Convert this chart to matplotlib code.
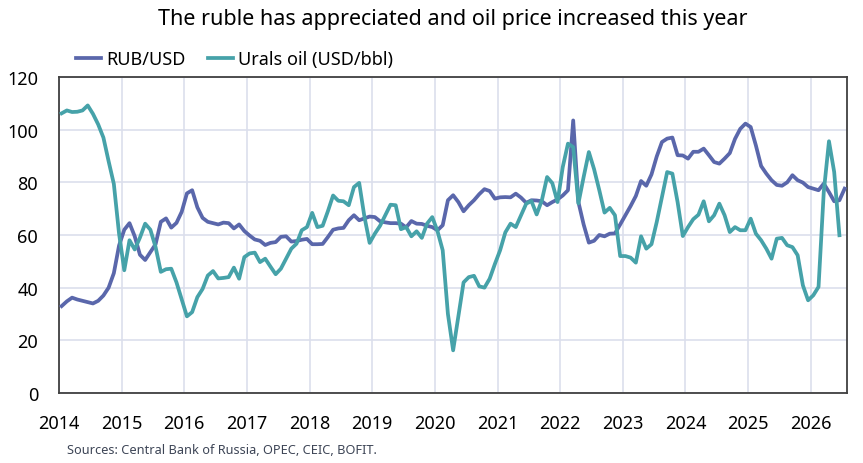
import matplotlib
matplotlib.use("Agg")
import matplotlib.pyplot as plt

# monthly data, Jan 2014 onwards
rub_usd = [
    33.0, 34.8, 36.2, 35.5, 35.0, 34.5, 34.0, 35.0, 37.0, 40.0, 45.5, 56.0,
    62.0, 64.5, 59.5, 52.5, 50.5, 53.5, 56.5, 65.0, 66.3, 62.8, 64.6, 68.8,
    75.8, 77.0, 70.5, 66.5, 65.0, 64.5, 64.0, 64.7, 64.5, 62.5, 64.0, 61.5,
    59.8, 58.3, 57.8, 56.2, 57.0, 57.3, 59.3, 59.5, 57.5, 57.7, 58.2, 58.5,
    56.5, 56.5, 56.6, 59.2, 62.0, 62.5, 62.7, 65.6, 67.5, 65.6, 66.3, 67.0,
    66.8, 65.2, 64.8, 64.5, 64.5, 64.3, 62.9, 65.3, 64.3, 64.2, 63.5, 63.0,
    61.8, 63.7, 73.2, 75.1, 72.5, 69.0, 71.3, 73.2, 75.5, 77.4, 76.7, 73.8,
    74.3, 74.4, 74.3, 75.7, 74.2, 72.2, 73.2, 73.1, 72.8, 71.3, 72.5, 73.5,
    75.0, 77.0, 103.5, 72.5, 64.0, 57.1, 57.8, 60.0, 59.5, 60.5, 60.6, 64.0,
    67.5, 71.0, 74.8, 80.5, 78.7, 83.0, 89.8, 95.3, 96.6, 97.0, 90.3, 90.2,
    89.0, 91.6, 91.6, 92.8, 90.3, 87.7, 87.1, 89.0, 91.1, 96.5, 100.3, 102.3,
    101.0, 94.0, 86.2, 83.3, 80.8, 79.0, 78.7, 80.0, 82.7, 80.8, 79.9, 78.2,
    77.6, 77.0, 79.5, 76.3, 72.8, 73.2, 77.6,
]

urals_oil = [
    106.2, 107.3, 106.7, 106.8, 107.3, 109.2, 106.0, 102.0, 97.0, 88.0, 79.4, 60.5,
    46.6, 58.0, 54.5, 59.0, 64.3, 62.0, 55.4, 46.0, 47.0, 47.2, 42.0, 35.5,
    29.1, 30.7, 36.4, 39.5, 44.6, 46.3, 43.5, 43.7, 44.0, 47.6, 43.4, 51.6,
    53.0, 53.3, 49.7, 51.0, 48.0, 45.1, 47.2, 51.0, 54.8, 56.7, 61.8, 63.0,
    68.4, 63.0, 63.5, 69.0, 75.0, 73.0, 72.8, 71.3, 78.2, 79.8, 67.0, 57.0,
    60.5, 63.5, 67.5, 71.5, 71.3, 62.2, 63.0, 59.5, 61.4, 58.9, 64.3, 66.8,
    61.5, 54.2, 30.0, 16.2, 29.0, 42.0, 44.0, 44.5, 40.5, 40.0, 43.4, 49.0,
    54.2, 61.0, 64.3, 63.0, 67.5, 71.9, 72.9, 67.8, 73.2, 82.0, 79.7, 72.5,
    85.8, 94.7, 93.4, 72.0, 82.0, 91.5, 85.0, 77.0, 68.5, 70.3, 67.5, 52.0,
    52.0, 51.4, 49.5, 59.5, 54.8, 56.5, 64.9, 74.4, 83.9, 83.3, 72.5, 59.6,
    63.0, 66.0, 67.7, 72.8, 65.2, 67.5, 71.9, 67.5, 61.1, 63.0, 61.8, 61.8,
    66.2, 60.5, 58.0, 54.8, 51.0, 58.6, 58.9, 56.1, 55.4, 52.3, 40.9, 35.2,
    37.1, 40.3, 76.3, 95.6, 83.9, 59.9,
]

years = list(range(2014, 2027))
y_ticks = [0, 20, 40, 60, 80, 100, 120]

# mid-month positions
x_rub = [2014 + (i + 0.5) / 12 for i in range(len(rub_usd))]
x_oil = [2014 + (i + 0.5) / 12 for i in range(len(urals_oil))]

plt.rcParams['font.family'] = ['Noto Sans', 'DejaVu Sans']

fig = plt.figure(figsize=(8.63, 4.64), dpi=100)
ax = fig.add_axes([0.0684, 0.1509, 0.9131, 0.681])

ax.plot(x_rub, rub_usd, color='#5a67ab', lw=2.7, label='RUB/USD', zorder=3)
ax.plot(x_oil, urals_oil, color='#46a2a9', lw=2.7, label='Urals oil (USD/bbl)', zorder=3)

ax.set_xlim(2014, 2026.58)
ax.set_ylim(0, 120)
ax.set_xticks(years)
ax.set_xticklabels([str(y) for y in years])
ax.set_yticks(y_ticks)
ax.grid(True, color='#dcdfec', lw=1.2)
ax.set_axisbelow(True)
ax.tick_params(length=0, labelsize=13)
ax.tick_params(axis='x', pad=15)
ax.tick_params(axis='y', pad=15)
for s in ax.spines.values():
    s.set_color('#404040')
    s.set_linewidth(1.3)

ax.set_title('The ruble has appreciated and oil price increased this year',
             fontsize=15.5, pad=38)
ax.legend(loc='lower left', bbox_to_anchor=(0.01, 1.0), ncol=2, frameon=False,
          fontsize=13, handlelength=1.4, handletextpad=0.3, columnspacing=1.2,
          borderaxespad=0.1)

fig.text(0.078, 0.03, 'Sources: Central Bank of Russia, OPEC, CEIC, BOFIT.',
         fontsize=9.2, color='#3d4556', va='center')

fig.savefig('out.png', dpi=100)
